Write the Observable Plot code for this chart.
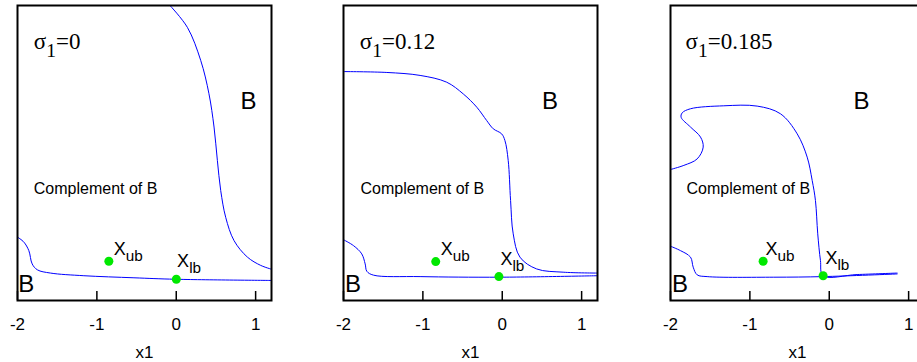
<!DOCTYPE html>
<html>
<head>
<meta charset="utf-8">
<script src="https://cdn.jsdelivr.net/npm/d3@7"></script>
<script src="https://cdn.jsdelivr.net/npm/@observablehq/plot@0.6"></script>
<style>
  html, body { margin: 0; padding: 0; background: #ffffff; overflow: hidden; width: 917px; height: 362px; }
  #wrap { position: relative; width: 917px; height: 362px; overflow: hidden; }
  .panel { position: absolute; top: 0; width: 326px; height: 362px; }
</style>
</head>
<body>
<div id="wrap"></div>
<script>
// ---------------- data ----------------
const xTicks = [-2, -1, 0, 1];
const sigmaValues = ["0", "0.12", "0.185"];

// boundary curves, [x1, y] with y in arbitrary units (0 = bottom, 1 = top of frame)
const p1Upper = [[-0.079,1.0],[0.14,0.926],[0.308,0.814],[0.412,0.701],[0.476,0.588],[0.518,0.475],[0.56,0.373],[0.623,0.282],[0.728,0.203],[0.897,0.147],[1.064,0.119],[1.2,0.106]];
const p1Lower = [[-2,0.215],[-1.92,0.198],[-1.857,0.169],[-1.815,0.124],[-1.75,0.104],[-1.584,0.093],[-1.164,0.084],[-0.533,0.077],[-0.008,0.072],[1.2,0.068]];

const p2Upper = [[-2,0.776],[-1.454,0.773],[-1.035,0.763],[-0.70,0.74],[-0.49,0.70],[-0.32,0.655],[-0.196,0.61],[-0.113,0.582],[-0.008,0.565],[0.034,0.542],[0.075,0.475],[0.105,0.339],[0.138,0.226],[0.223,0.147],[0.433,0.107],[0.767,0.096],[1.2,0.093]];
const p2Lower = [[-2,0.206],[-1.874,0.186],[-1.77,0.158],[-1.727,0.124],[-1.706,0.099],[-1.623,0.086],[-1.035,0.081],[-0.029,0.079],[1.2,0.084]];

const p3Upper = [[-2,0.444],[-1.832,0.458],[-1.664,0.48],[-1.588,0.52],[-1.622,0.554],[-1.748,0.588],[-1.866,0.621],[-1.853,0.636],[-1.748,0.65],[-1.329,0.66],[-0.908,0.659],[-0.615,0.633],[-0.404,0.565],[-0.278,0.486],[-0.215,0.407],[-0.174,0.339],[-0.145,0.226],[-0.111,0.136],[-0.077,0.084],[0.351,0.088],[0.855,0.093]];
const p3Lower = [[-2,0.184],[-1.874,0.169],[-1.748,0.147],[-1.714,0.113],[-1.664,0.087],[-1.538,0.081],[-0.699,0.079],[-0.077,0.081],[0.855,0.09]];

// special points
const xubX = [-0.849, -0.838, -0.833];
const xubY = [0.133, 0.132, 0.133];
const xlbX = [0.001, -0.042, -0.077];
const xlbY = [0.072, 0.081, 0.084];

// annotation anchor positions (data units)
const sigmaPos   = [[-1.795, 0.851], [-1.795, 0.851], [-1.811, 0.851]];
const bUpperPos  = [[0.809, 0.650], [0.502, 0.650], [0.305, 0.650]];
const bLowerPos  = [[-1.99, 0.028], [-1.982, 0.028], [-1.982, 0.028]];
const complPos   = [[-1.795, 0.362], [-1.786, 0.362], [-1.798, 0.362]];
const xubLblPos  = [[-0.787, 0.153], [-0.776, 0.153], [-0.804, 0.153]];
const xlbLblPos  = [[0.011, 0.113], [-0.023, 0.122], [-0.048, 0.124]];

const panels = [
  {upper: p1Upper, lower: p1Lower},
  {upper: p2Upper, lower: p2Lower},
  {upper: p3Upper, lower: p3Lower}
];
const panelLeft = [0, 326, 653];

// ---------------- drawing ----------------
function addSubscripts(svg) {
  svg.querySelectorAll("text").forEach(t => {
    const m = t.textContent.match(/^([^_]*)_([^=]+)(.*)$/);
    if (!m) return;
    t.textContent = "";
    const ns = "http://www.w3.org/2000/svg";
    const a = document.createElementNS(ns, "tspan"); a.textContent = m[1]; t.appendChild(a);
    const b = document.createElementNS(ns, "tspan"); b.textContent = m[2];
    b.setAttribute("font-size", "0.85em"); b.setAttribute("dy", "0.4em"); t.appendChild(b);
    if (m[3]) {
      const c = document.createElementNS(ns, "tspan"); c.textContent = m[3];
      c.setAttribute("dy", "-0.34em"); t.appendChild(c);
    }
  });
}

const wrap = document.getElementById("wrap");
const sans = "'Liberation Sans', Arial, Helvetica, sans-serif";
const serif = "'Liberation Serif', 'Times New Roman', Times, serif";

panels.forEach((p, i) => {
  const curves = [
    ...p.upper.map(([x, y]) => ({x, y, c: "upper"})),
    ...p.lower.map(([x, y]) => ({x, y, c: "lower"}))
  ];
  const pts = [
    {x: xubX[i], y: xubY[i]},
    {x: xlbX[i], y: xlbY[i]}
  ];
  const ann = (pos, text) => [{x: pos[i][0], y: pos[i][1], text}];

  const chart = Plot.plot({
    width: 326, height: 362,
    marginLeft: 17, marginRight: 55, marginTop: 5, marginBottom: 62,
    style: {fontFamily: sans, fontSize: "17px", background: "transparent", color: "black", overflow: "visible"},
    x: {domain: [-2, 1.2], ticks: xTicks, tickFormat: d => String(d), tickSize: 0, tickPadding: 17, label: null},
    y: {domain: [0, 1], axis: null},
    marks: [
      Plot.line(curves, {x: "x", y: "y", z: "c", stroke: "#0000ff", strokeWidth: 1, curve: "catmull-rom", clip: true}),
      Plot.dot(pts, {x: "x", y: "y", r: 4.5, fill: "#00e800", stroke: "none"}),
      Plot.frame({stroke: "black", strokeWidth: 2}),
      Plot.tickX(xTicks, {x: d => d, insetTop: 286, stroke: "black", strokeWidth: 1.5}),
      Plot.text(["x1"], {text: d => d, frameAnchor: "bottom", lineAnchor: "top", dy: 45, fontSize: 17}),
      Plot.text(ann(sigmaPos, "σ_1=" + sigmaValues[i]), {x: "x", y: "y", text: "text", textAnchor: "start", lineAnchor: "bottom", fontSize: 23, fontFamily: serif}),
      Plot.text(ann(bUpperPos, "B"), {x: "x", y: "y", text: "text", textAnchor: "start", lineAnchor: "bottom", fontSize: 24}),
      Plot.text(ann(bLowerPos, "B"), {x: "x", y: "y", text: "text", textAnchor: "start", lineAnchor: "bottom", fontSize: 24}),
      Plot.text(ann(complPos, "Complement of B"), {x: "x", y: "y", text: "text", textAnchor: "start", lineAnchor: "bottom", fontSize: 16}),
      Plot.text(ann(xubLblPos, "X_ub"), {x: "x", y: "y", text: "text", textAnchor: "start", lineAnchor: "bottom", fontSize: 18}),
      Plot.text(ann(xlbLblPos, "X_lb"), {x: "x", y: "y", text: "text", textAnchor: "start", lineAnchor: "bottom", fontSize: 18})
    ]
  });
  addSubscripts(chart);
  const div = document.createElement("div");
  div.className = "panel";
  div.style.left = panelLeft[i] + "px";
  div.appendChild(chart);
  wrap.appendChild(div);
});
</script>
</body>
</html>
